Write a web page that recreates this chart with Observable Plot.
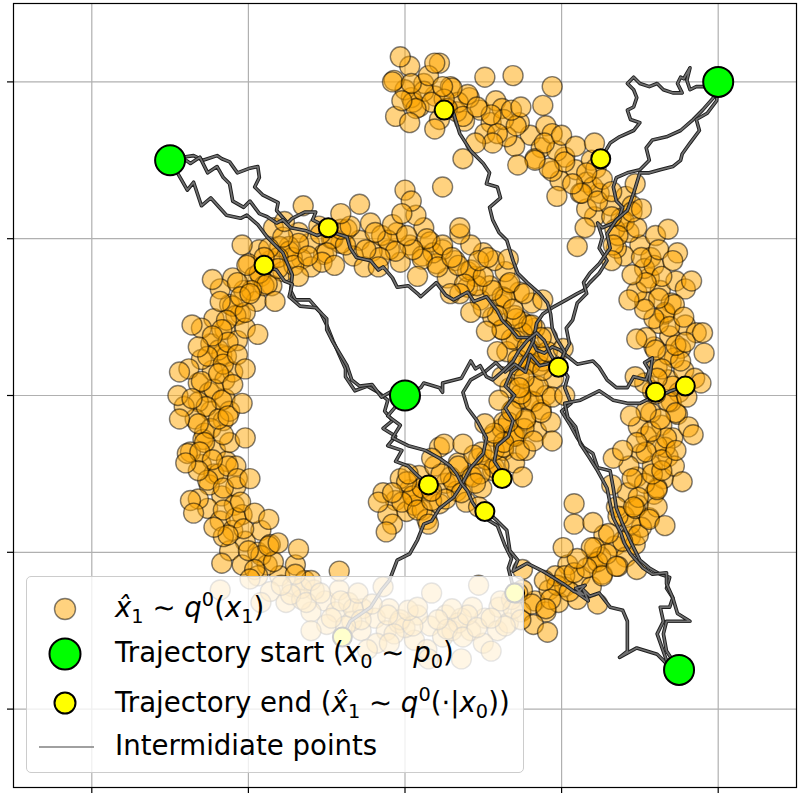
<!DOCTYPE html>
<html><head><meta charset="utf-8">
<script src="https://cdn.jsdelivr.net/npm/d3@7"></script>
<script src="https://cdn.jsdelivr.net/npm/@observablehq/plot@0.6"></script>
<style>
body{margin:0;background:#fff;}
#wrap{position:relative;width:800px;height:800px;font-family:"DejaVu Sans",sans-serif;}
#wrap svg{display:block;}
#legend{position:absolute;left:26px;top:576px;width:498px;height:197px;background:rgba(255,255,255,0.8);border:1.5px solid #cccccc;border-radius:5px;box-sizing:border-box;}
#lsvg{position:absolute;left:0;top:0;}
.lt{position:absolute;left:115px;font-size:27.6px;line-height:31px;white-space:nowrap;color:#000;}
.m{font-style:italic}
.sb{font-size:0.7em;position:relative;top:0.3em}
.sp{font-size:0.7em;position:relative;top:-0.55em}
</style></head><body><div id="wrap"></div>
<script>
const xTicks = [-2, -1, 0, 1, 2];
const yTicks = [-2, -1, 0, 1, 2];

// samples x̂1 ~ q0(x1)  [x, y]
const samples = [
[-0.06,-0.67],[-0.14,-0.62],[0.01,-0.74],[-0.11,-0.76],[-0.17,-0.68],[0.03,-0.60],[-0.03,-0.53],[-0.08,-0.82],[0.06,-0.70],
[0.16,-0.61],[0.09,-0.51],[0.22,-0.69],[0.11,-0.73],[0.26,-0.56],[0.05,-0.64],[0.19,-0.45],[0.14,-0.79],[0.22,-0.33],
[0.42,-0.51],[0.34,-0.43],[0.49,-0.59],[0.33,-0.61],[0.47,-0.40],[0.56,-0.48],[0.39,-0.68],[0.29,-0.52],
[0.63,-0.35],[0.56,-0.26],[0.70,-0.43],[0.57,-0.46],[0.71,-0.26],[0.49,-0.36],[0.77,-0.35],[0.62,-0.21],[0.25,-0.31],
[0.77,-0.16],[0.69,-0.09],[0.84,-0.23],[0.69,-0.25],[0.87,-0.09],[0.63,-0.17],[0.79,-0.03],[0.93,-0.17],
[0.82,0.06],[0.73,0.12],[0.90,0.00],[0.74,-0.02],[0.95,0.11],[0.67,0.05],[0.86,0.19],[0.79,0.21],
[0.80,0.29],[0.71,0.35],[0.88,0.22],[0.72,0.19],[0.91,0.37],[0.65,0.28],[0.83,0.43],[0.75,0.47],
[0.70,0.51],[0.61,0.58],[0.79,0.45],[0.62,0.42],[0.81,0.59],[0.56,0.50],[0.73,0.66],[0.66,0.71],
[0.54,0.70],[0.45,0.76],[0.62,0.63],[0.48,0.61],[0.64,0.79],[0.40,0.69],[0.57,0.86],[0.50,0.91],
[0.32,0.86],[0.24,0.93],[0.40,0.79],[0.27,0.75],[0.42,0.96],[0.20,0.84],[0.35,1.03],[0.46,0.70],
[0.03,0.96],[-0.05,1.04],[0.11,0.89],[-0.03,0.85],[0.12,1.07],[-0.10,0.93],[0.07,1.15],[0.16,0.98],[0.00,1.31],[0.04,1.24],
[-0.29,0.99],[-0.37,1.06],[-0.21,0.92],[-0.33,0.89],[-0.22,1.10],[-0.41,0.97],[-0.26,0.82],[-0.15,1.02],[-0.29,1.22],
[-0.61,0.97],[-0.68,1.04],[-0.52,0.90],[-0.66,0.87],[-0.55,1.08],[-0.74,0.95],[-0.47,1.00],[-0.60,0.82],[-0.65,1.21],
[-0.86,0.86],[-0.93,0.93],[-0.78,0.79],[-0.92,0.76],[-0.80,0.95],[-1.00,0.84],[-0.72,0.88],[-0.85,0.70],[-0.84,1.07],
[-1.03,0.67],[-1.10,0.75],[-0.95,0.60],[-1.12,0.58],[-0.96,0.76],[-1.18,0.68],[-0.90,0.70],[-1.05,0.52],
[-1.15,0.42],[-1.22,0.49],[-1.07,0.35],[-1.24,0.33],[-1.08,0.51],[-1.30,0.43],[-1.02,0.43],[-1.17,0.26],
[-1.23,0.16],[-1.30,0.23],[-1.15,0.10],[-1.32,0.08],[-1.14,0.25],[-1.38,0.17],[-1.10,0.15],[-1.25,0.02],
[-1.24,-0.10],[-1.32,-0.04],[-1.16,-0.16],[-1.34,-0.15],[-1.15,-0.02],[-1.41,-0.07],[-1.12,-0.10],[-1.28,-0.24],[-1.45,0.00],
[-1.21,-0.35],[-1.29,-0.28],[-1.14,-0.42],[-1.30,-0.44],[-1.12,-0.30],[-1.37,-0.36],[-1.08,-0.45],[-1.22,-0.50],[-1.39,-0.37],
[-1.17,-0.64],[-1.25,-0.57],[-1.09,-0.70],[-1.26,-0.72],[-1.08,-0.58],[-1.32,-0.66],[-1.04,-0.76],[-1.18,-0.80],[-1.37,-0.67],
[-1.02,-0.93],[-1.10,-0.86],[-0.94,-1.00],[-1.12,-0.99],[-0.92,-0.86],[-1.04,-1.08],[-0.86,-0.95],[-1.16,-0.90],
[-0.80,-1.15],[-0.88,-1.08],[-0.72,-1.22],[-0.86,-1.25],[-0.70,-1.08],[-0.94,-1.15],[-0.76,-1.32],[-0.64,-1.18],[-1.18,-1.24],
[-0.51,-1.31],[-0.58,-1.24],[-0.44,-1.38],[-0.60,-1.38],[-0.42,-1.24],[-0.66,-1.30],[-0.50,-1.46],[-0.36,-1.32],
[-0.19,-1.42],[-0.27,-1.36],[-0.12,-1.50],[-0.28,-1.50],[-0.10,-1.36],[-0.34,-1.44],[-0.18,-1.58],[-0.04,-1.45],
[0.16,-1.47],[0.08,-1.40],[0.24,-1.54],[0.06,-1.56],[0.26,-1.40],[0.00,-1.48],[0.14,-1.62],[0.30,-1.50],[0.36,-1.68],
[0.51,-1.42],[0.43,-1.35],[0.59,-1.50],[0.42,-1.50],[0.60,-1.35],[0.36,-1.42],[0.50,-1.58],[0.66,-1.45],
[0.83,-1.31],[0.75,-1.24],[0.90,-1.38],[0.74,-1.38],[0.92,-1.24],[0.68,-1.30],[0.82,-1.46],[0.98,-1.32],
[1.12,-1.15],[1.04,-1.08],[1.19,-1.22],[1.02,-1.22],[1.20,-1.07],[0.96,-1.15],[1.10,-1.30],[1.26,-1.14],
[1.34,-0.96],[1.27,-0.89],[1.41,-1.03],[1.25,-1.03],[1.44,-0.90],[1.21,-0.97],[1.36,-1.09],[1.47,-0.95],
[1.49,-0.70],[1.42,-0.62],[1.56,-0.78],[1.40,-0.77],[1.59,-0.63],[1.35,-0.71],[1.51,-0.84],[1.61,-0.71],[1.08,-0.69],[1.08,-0.82],
[1.58,-0.45],[1.51,-0.37],[1.65,-0.53],[1.48,-0.52],[1.68,-0.39],[1.43,-0.45],[1.61,-0.59],[1.72,-0.45],[1.33,-0.40],
[1.64,-0.19],[1.57,-0.11],[1.71,-0.27],[1.54,-0.26],[1.74,-0.12],[1.49,-0.20],[1.66,-0.33],[1.81,-0.20],
[1.68,0.10],[1.61,0.18],[1.75,0.02],[1.58,0.03],[1.78,0.16],[1.53,0.08],[1.70,-0.04],[1.85,0.11],
[1.69,0.38],[1.62,0.46],[1.76,0.30],[1.59,0.31],[1.79,0.45],[1.54,0.37],[1.72,0.24],[1.86,0.40],[1.91,0.27],
[1.63,0.67],[1.56,0.75],[1.70,0.59],[1.53,0.60],[1.73,0.73],[1.48,0.66],[1.66,0.52],[1.79,0.68],
[1.50,0.96],[1.43,1.04],[1.57,0.88],[1.40,0.89],[1.60,1.02],[1.35,0.94],[1.53,0.81],[1.74,0.91],[1.10,0.95],
[1.31,1.21],[1.24,1.29],[1.38,1.13],[1.21,1.14],[1.41,1.27],[1.16,1.19],[1.34,1.06],[1.45,1.21],
[1.09,1.44],[1.02,1.52],[1.16,1.36],[0.99,1.37],[1.19,1.50],[0.94,1.43],[1.12,1.29],[1.22,1.45],
[0.80,1.66],[0.73,1.74],[0.87,1.58],[0.70,1.59],[0.90,1.72],[0.65,1.65],[0.83,1.51],[0.94,1.67],[0.94,1.97],
[0.48,1.82],[0.41,1.90],[0.55,1.74],[0.38,1.75],[0.58,1.88],[0.33,1.81],[0.51,1.67],[0.62,1.83],[0.69,2.04],[0.37,1.51],
[0.19,1.91],[0.12,1.99],[0.26,1.83],[0.09,1.84],[0.29,1.97],[0.04,1.90],[0.22,1.76],[0.22,2.12],[0.24,1.33],
[0.00,1.95],[-0.07,2.01],[0.05,1.87],[-0.06,1.78],[0.03,2.10],[-0.08,2.00],
[0.05,-0.64],[0.11,-0.59],[-0.02,-0.68],[0.08,-0.73],[0.01,-0.55],[0.17,-0.67],[-0.08,-0.62],
[0.31,-0.55],[0.23,-0.50],[0.36,-0.62],[0.26,-0.66],[0.34,-0.45],[0.17,-0.61],[0.43,-0.52],
[0.52,-0.41],[0.60,-0.45],[0.48,-0.50],[0.57,-0.35],[0.44,-0.38],[0.63,-0.33],[0.45,-0.56],
[0.70,-0.26],[0.76,-0.21],[0.63,-0.30],[0.73,-0.35],[0.66,-0.17],[0.82,-0.29],[0.57,-0.24],
[0.82,-0.04],[0.74,0.01],[0.87,-0.11],[0.77,-0.15],[0.85,0.06],[0.68,-0.10],[0.94,-0.01],
[0.80,0.20],[0.88,0.16],[0.76,0.11],[0.85,0.26],[0.72,0.23],[0.91,0.28],[0.73,0.05],
[0.75,0.40],[0.81,0.45],[0.68,0.36],[0.78,0.31],[0.71,0.49],[0.87,0.37],[0.62,0.42],
[0.64,0.62],[0.56,0.67],[0.69,0.55],[0.59,0.51],[0.67,0.72],[0.50,0.56],[0.76,0.65],
[0.42,0.80],[0.50,0.76],[0.38,0.71],[0.47,0.86],[0.34,0.83],[0.53,0.88],[0.35,0.65],
[0.18,0.91],[0.24,0.96],[0.11,0.87],[0.21,0.82],[0.14,1.00],[0.30,0.88],[0.05,0.93],
[-0.11,0.99],[-0.19,1.04],[-0.06,0.92],[-0.16,0.88],[-0.08,1.09],[-0.25,0.93],[0.01,1.02],
[-0.46,1.00],[-0.38,0.96],[-0.50,0.91],[-0.41,1.06],[-0.54,1.03],[-0.35,1.08],[-0.53,0.85],
[-0.74,0.92],[-0.68,0.97],[-0.81,0.88],[-0.71,0.83],[-0.78,1.01],[-0.62,0.89],[-0.87,0.94],
[-0.93,0.78],[-1.01,0.83],[-0.88,0.71],[-0.98,0.67],[-0.90,0.88],[-1.07,0.72],[-0.81,0.81],
[-1.10,0.57],[-1.02,0.53],[-1.14,0.48],[-1.05,0.63],[-1.18,0.60],[-0.99,0.65],[-1.17,0.42],
[-1.19,0.29],[-1.13,0.34],[-1.26,0.25],[-1.16,0.20],[-1.23,0.38],[-1.07,0.26],[-1.32,0.31],
[-1.22,0.04],[-1.30,0.09],[-1.17,-0.03],[-1.27,-0.07],[-1.19,0.14],[-1.36,-0.02],[-1.10,0.07],
[-1.24,-0.21],[-1.16,-0.25],[-1.28,-0.30],[-1.19,-0.15],[-1.32,-0.18],[-1.13,-0.13],[-1.31,-0.36],
[-1.19,-0.50],[-1.13,-0.45],[-1.26,-0.54],[-1.16,-0.59],[-1.23,-0.41],[-1.07,-0.53],[-1.32,-0.48],
[-1.08,-0.78],[-1.16,-0.73],[-1.03,-0.85],[-1.13,-0.89],[-1.05,-0.68],[-1.22,-0.84],[-0.96,-0.75],
[-0.92,-1.02],[-0.84,-1.06],[-0.96,-1.11],[-0.87,-0.96],[-1.00,-0.99],[-0.81,-0.94],[-0.99,-1.17],
[-0.66,-1.23],[-0.60,-1.18],[-0.73,-1.27],[-0.63,-1.32],[-0.70,-1.14],[-0.54,-1.26],[-0.79,-1.21],
[-0.33,-1.36],[-0.41,-1.31],[-0.28,-1.43],[-0.38,-1.47],[-0.30,-1.26],[-0.47,-1.42],[-0.21,-1.33],
[-0.03,-1.43],[0.05,-1.47],[-0.07,-1.52],[0.02,-1.37],[-0.11,-1.40],[0.08,-1.35],[-0.10,-1.58],
[0.34,-1.45],[0.40,-1.40],[0.27,-1.49],[0.37,-1.54],[0.30,-1.36],[0.46,-1.48],[0.21,-1.43],
[0.69,-1.36],[0.61,-1.31],[0.74,-1.43],[0.64,-1.47],[0.72,-1.26],[0.55,-1.42],[0.81,-1.33],
[0.97,-1.21],[1.05,-1.25],[0.93,-1.30],[1.02,-1.15],[0.89,-1.18],[1.08,-1.13],[0.90,-1.36],
[1.23,-1.06],[1.29,-1.01],[1.16,-1.10],[1.26,-1.15],[1.19,-0.97],[1.35,-1.09],[1.10,-1.04],
[1.44,-0.82],[1.36,-0.77],[1.49,-0.89],[1.39,-0.93],[1.47,-0.72],[1.30,-0.88],[1.56,-0.79],
[1.53,-0.56],[1.61,-0.60],[1.49,-0.65],[1.58,-0.50],[1.45,-0.53],[1.64,-0.48],[1.46,-0.71],
[1.61,-0.32],[1.67,-0.27],[1.54,-0.36],[1.64,-0.41],[1.57,-0.23],[1.73,-0.35],[1.48,-0.30],
[1.68,-0.04],[1.60,0.01],[1.73,-0.11],[1.63,-0.15],[1.71,0.06],[1.54,-0.10],[1.80,-0.01],
[1.68,0.26],[1.76,0.22],[1.64,0.17],[1.73,0.32],[1.60,0.29],[1.79,0.34],[1.61,0.11],
[1.66,0.53],[1.72,0.58],[1.59,0.49],[1.69,0.44],[1.62,0.62],[1.78,0.50],[1.53,0.55],
[1.59,0.83],[1.51,0.88],[1.64,0.76],[1.54,0.72],[1.62,0.93],[1.45,0.77],[1.71,0.86],
[1.40,1.11],[1.48,1.07],[1.36,1.02],[1.45,1.17],[1.32,1.14],[1.51,1.19],[1.33,0.96],
[1.20,1.33],[1.26,1.38],[1.13,1.29],[1.23,1.24],[1.16,1.42],[1.32,1.30],[1.07,1.35],
[0.97,1.56],[0.89,1.61],[1.02,1.49],[0.92,1.45],[1.00,1.66],[0.83,1.50],[1.09,1.59],
[0.63,1.76],[0.71,1.72],[0.59,1.67],[0.68,1.82],[0.55,1.79],[0.74,1.84],[0.56,1.61],
[0.34,1.87],[0.40,1.92],[0.27,1.83],[0.37,1.78],[0.30,1.96],[0.46,1.84],[0.25,1.89],
[0.12,1.94],[0.04,1.99],[0.17,1.87],[0.07,1.83],[0.15,2.04],[-0.02,1.88],[0.24,1.97],
[-0.12,-0.87],[0.02,-0.50],[0.15,-0.82],[0.17,-0.40],[0.47,-0.71],[0.37,-0.31],[0.75,-0.52],[0.51,-0.18],
[0.94,-0.29],[0.60,-0.03],[1.02,0.00],[0.62,0.12],[1.01,0.30],[0.59,0.28],[0.88,0.61],[0.52,0.41],
[0.66,0.87],[0.42,0.53],[0.35,1.07],[0.29,0.65],[-0.02,1.16],[0.08,0.76],[-0.41,1.16],[-0.17,0.82],
[-0.77,1.11],[-0.45,0.83],[-1.04,0.96],[-0.68,0.76],[-1.23,0.74],[-0.83,0.60],[-1.36,0.45],[-0.94,0.39],
[-1.44,0.15],[-1.02,0.17],[-1.44,-0.15],[-1.04,-0.05],[-1.40,-0.43],[-1.02,-0.27],[-1.35,-0.75],[-0.99,-0.53],
[-1.17,-1.07],[-0.87,-0.79],[-0.92,-1.32],[-0.68,-0.98],[-0.60,-1.50],[-0.42,-1.12],[-0.24,-1.62],[-0.14,-1.22],
[0.15,-1.68],[0.17,-1.26],[0.55,-1.63],[0.47,-1.21],[0.91,-1.51],[0.75,-1.11],[1.23,-1.33],[1.01,-0.97],
[1.48,-1.11],[1.20,-0.81],[1.66,-0.83],[1.32,-0.57],[1.77,-0.55],[1.39,-0.35],[1.84,-0.25],[1.44,-0.13],
[1.89,0.08],[1.47,0.12],[1.90,0.40],[1.48,0.36],[1.83,0.73],[1.43,0.61],[1.68,1.06],[1.32,0.86],
[1.47,1.35],[1.15,1.07],[1.21,1.61],[0.97,1.27],[0.88,1.85],[0.72,1.47],[0.51,2.03],[0.45,1.61],
[0.19,2.12],[0.19,1.70],[-0.03,2.16],[0.03,1.74]
];

const startPoints = [[-1.5,1.5],[2,2],[0,0],[1.75,-1.75]];
const endPoints = [[0.25,1.82],[1.25,1.51],[-0.49,1.07],[-0.90,0.83],[0.98,0.18],[1.60,0.02],[1.79,0.06],[0.15,-0.57],[0.62,-0.53],[0.51,-0.74],[-0.40,-1.54],[0.70,-1.26]];

const trajA1 = [[-1.5,1.5],[-1.42,1.52],[-1.35,1.53],[-1.29,1.50],[-1.20,1.53],[-1.17,1.51],[-1.12,1.49],[-1.07,1.42],[-0.99,1.45],[-0.94,1.46],[-0.93,1.39],[-0.96,1.33],[-0.91,1.28],[-0.81,1.23],[-0.82,1.18],[-0.75,1.10],[-0.72,1.13],[-0.64,1.17],[-0.57,1.17],[-0.59,1.12],[-0.53,1.09],[-0.49,1.07]];
const trajA2 = [[-1.5,1.5],[-1.44,1.53],[-1.37,1.48],[-1.31,1.52],[-1.26,1.42],[-1.20,1.46],[-1.16,1.39],[-1.12,1.35],[-1.10,1.24],[-1.03,1.20],[-0.99,1.24],[-0.93,1.16],[-0.88,1.14],[-0.82,1.10],[-0.78,1.12],[-0.73,1.07],[-0.63,1.05],[-0.56,1.02],[-0.50,1.05],[-0.43,1.03],[-0.37,1.01],[-0.35,0.94],[-0.31,0.88],[-0.22,0.86],[-0.17,0.80],[-0.14,0.82],[-0.08,0.75],[-0.05,0.69],[0.02,0.70],[0.08,0.65],[0.10,0.63],[0.20,0.72],[0.26,0.64],[0.31,0.61],[0.40,0.66],[0.44,0.60],[0.52,0.63],[0.59,0.54],[0.62,0.48],[0.67,0.43],[0.72,0.37],[0.80,0.37],[0.84,0.29],[0.89,0.27],[0.94,0.31],[0.99,0.29],[1.05,0.24],[1.10,0.20],[1.20,0.22],[1.24,0.18],[1.29,0.10],[1.35,0.05],[1.42,0.05],[1.46,0.12],[1.54,0.10],[1.56,0.16],[1.53,0.21],[1.58,0.24],[1.56,0.10],[1.60,0.02]];
const trajA3 = [[-1.5,1.5],[-1.43,1.38],[-1.39,1.31],[-1.35,1.36],[-1.30,1.21],[-1.24,1.26],[-1.14,1.15],[-1.05,1.13],[-1.01,1.15],[-0.94,1.09],[-0.88,1.01],[-0.84,0.97],[-0.78,0.91],[-0.75,0.84],[-0.72,0.77],[-0.73,0.67],[-0.70,0.61],[-0.61,0.61],[-0.54,0.53],[-0.50,0.45],[-0.46,0.35],[-0.42,0.26],[-0.38,0.17],[-0.38,0.12],[-0.32,0.03],[-0.24,0.06],[-0.17,0.02],[-0.11,-0.03],[-0.13,-0.10],[-0.08,-0.16],[-0.14,-0.21],[-0.06,-0.26],[-0.11,-0.32],[-0.02,-0.35],[-0.06,-0.42],[0.02,-0.45],[0.08,-0.51],[0.15,-0.57]];
const trajB1 = [[2,2],[1.93,1.97],[1.86,1.97],[1.82,1.95],[1.80,2.01],[1.82,2.09],[1.78,2.02],[1.76,2.03],[1.74,1.99],[1.77,1.93],[1.71,1.93],[1.65,1.95],[1.61,1.99],[1.56,1.97],[1.50,1.99],[1.46,2.03],[1.42,1.99],[1.46,1.95],[1.48,1.90],[1.46,1.84],[1.42,1.82],[1.44,1.76],[1.50,1.74],[1.46,1.69],[1.37,1.65],[1.31,1.61],[1.25,1.51]];
const trajB2 = [[2,2],[1.97,1.90],[1.90,1.82],[1.84,1.76],[1.76,1.69],[1.67,1.65],[1.58,1.63],[1.54,1.58],[1.56,1.50],[1.50,1.44],[1.42,1.42],[1.35,1.39],[1.33,1.33],[1.35,1.24],[1.39,1.20],[1.37,1.14],[1.33,1.10],[1.26,1.07],[1.23,1.10],[1.26,1.01],[1.24,0.94],[1.29,0.86],[1.24,0.78],[1.18,0.72],[1.14,0.67],[1.10,0.65],[1.03,0.61],[0.94,0.56],[0.88,0.52],[0.84,0.46],[0.82,0.35],[0.78,0.27],[0.73,0.19],[0.68,0.15],[0.64,0.06],[0.70,0.00],[0.64,-0.08],[0.69,-0.16],[0.66,-0.26],[0.59,-0.32],[0.57,-0.42],[0.61,-0.48],[0.62,-0.53]];
const trajB3 = [[2,2],[1.99,1.88],[1.93,1.80],[1.86,1.76],[1.88,1.69],[1.82,1.61],[1.77,1.54],[1.76,1.50],[1.71,1.46],[1.63,1.44],[1.56,1.42],[1.50,1.42],[1.46,1.29],[1.42,1.18],[1.35,1.12],[1.29,1.03],[1.31,0.94],[1.24,0.84],[1.18,0.78],[1.14,0.72],[1.16,0.65],[1.10,0.59],[1.07,0.48],[1.03,0.43],[1.05,0.33],[0.99,0.22],[0.86,0.19],[0.80,0.26],[0.77,0.15],[0.70,0.20],[0.64,0.15],[0.58,0.21],[0.51,0.15],[0.42,0.10],[0.37,0.02],[0.40,-0.08],[0.46,-0.16],[0.52,-0.27],[0.50,-0.37],[0.42,-0.46],[0.35,-0.59],[0.31,-0.65],[0.22,-0.72],[0.17,-0.80],[0.12,-0.82],[0.08,-0.92],[0.03,-1.01],[-0.05,-1.05],[-0.10,-1.18],[-0.15,-1.24],[-0.22,-1.35],[-0.35,-1.44],[-0.40,-1.54]];
const trajC1 = [[0,0],[-0.08,0.03],[-0.15,-0.01],[-0.21,0.07],[-0.29,0.06],[-0.34,0.10],[-0.37,0.19],[-0.43,0.29],[-0.46,0.34],[-0.50,0.42],[-0.50,0.49],[-0.57,0.56],[-0.67,0.57],[-0.74,0.63],[-0.72,0.71],[-0.77,0.73],[-0.82,0.80],[-0.90,0.83]];
const trajC2 = [[0,0],[0.10,0.05],[0.12,0.08],[0.22,0.05],[0.24,0.02],[0.24,0.08],[0.36,0.11],[0.42,0.22],[0.45,0.17],[0.48,0.19],[0.52,0.12],[0.56,0.10],[0.63,0.16],[0.69,0.22],[0.73,0.29],[0.78,0.35],[0.84,0.40],[0.89,0.35],[0.93,0.26],[0.98,0.18]];
const trajC3 = [[0,0],[-0.05,-0.06],[-0.11,-0.13],[-0.03,-0.19],[-0.08,-0.27],[0.02,-0.32],[0.13,-0.35],[0.22,-0.40],[0.29,-0.45],[0.33,-0.50],[0.36,-0.56],[0.40,-0.61],[0.43,-0.68],[0.49,-0.77],[0.59,-0.83],[0.64,-0.96],[0.68,-1.04],[0.66,-1.10],[0.70,-1.26]];
const trajD1 = [[1.75,-1.75],[1.67,-1.71],[1.61,-1.65],[1.48,-1.61],[1.37,-1.67],[1.42,-1.63],[1.42,-1.44],[1.39,-1.37],[1.31,-1.35],[1.24,-1.26],[1.18,-1.28],[1.14,-1.24],[1.17,-1.31],[1.10,-1.26],[1.15,-1.21],[1.09,-1.23],[1.14,-1.27],[1.08,-1.25],[1.01,-1.20],[0.88,-1.12],[0.78,-1.07],[0.69,-1.12],[0.72,-1.05],[0.67,-0.99],[0.65,-0.86],[0.59,-0.80],[0.51,-0.73]];
const trajD2 = [[1.75,-1.75],[1.67,-1.69],[1.61,-1.52],[1.65,-1.44],[1.63,-1.35],[1.69,-1.35],[1.71,-1.29],[1.67,-1.23],[1.69,-1.16],[1.63,-1.14],[1.56,-1.10],[1.50,-1.05],[1.44,-0.93],[1.39,-0.82],[1.35,-0.72],[1.33,-0.59],[1.31,-0.48],[1.23,-0.46],[1.20,-0.37],[1.14,-0.33],[1.10,-0.27],[1.05,-0.18],[1.00,-0.10],[1.06,-0.05],[1.02,0.05],[1.04,0.12],[0.99,0.20],[1.02,0.28],[0.97,0.36],[0.94,0.43],[0.93,0.52],[0.91,0.59],[0.86,0.65],[0.78,0.72],[0.72,0.78],[0.69,0.86],[0.65,0.99],[0.60,1.04],[0.56,1.12],[0.54,1.20],[0.61,1.26],[0.59,1.33],[0.52,1.35],[0.54,1.42],[0.50,1.48],[0.42,1.56],[0.35,1.67],[0.31,1.80],[0.25,1.82]];
const trajD3 = [[1.75,-1.75],[1.71,-1.69],[1.67,-1.63],[1.65,-1.52],[1.67,-1.44],[1.82,-1.44],[1.74,-1.39],[1.71,-1.29],[1.67,-1.20],[1.67,-1.13],[1.58,-1.14],[1.52,-1.10],[1.44,-1.01],[1.40,-0.94],[1.38,-0.88],[1.33,-0.78],[1.31,-0.69],[1.29,-0.59],[1.23,-0.48],[1.18,-0.40],[1.12,-0.31],[1.09,-0.20],[1.04,-0.14],[1.02,-0.05],[1.12,-0.03],[1.16,-0.01],[1.24,0.03],[1.33,-0.03],[1.42,-0.05],[1.50,-0.05],[1.56,-0.02],[1.63,0.00],[1.70,0.03],[1.79,0.06]];
const trajectories = [trajA1, trajA2, trajA3, trajB1, trajB2, trajB3, trajC1, trajC2, trajC3, trajD1, trajD2, trajD3];

const px = d => d[0], py = d => d[1];
const marks = [
  Plot.gridX({ticks: xTicks, stroke: "#b0b0b0", strokeOpacity: 1, strokeWidth: 1.2}),
  Plot.gridY({ticks: yTicks, stroke: "#b0b0b0", strokeOpacity: 1, strokeWidth: 1.2}),
  Plot.dot(samples, {x: px, y: py, r: 10, fill: "#ffa500", fillOpacity: 0.5, stroke: "#000", strokeOpacity: 0.5, strokeWidth: 1.4})
];
for (const t of trajectories) {
  marks.push(Plot.line(t, {x: px, y: py, stroke: "#1e1e1e", strokeWidth: 3.6}));
  marks.push(Plot.line(t, {x: px, y: py, stroke: "#707070", strokeWidth: 1.7}));
}
marks.push(Plot.dot(startPoints, {x: px, y: py, r: 15, fill: "#00ff00", stroke: "#000", strokeWidth: 2}));
marks.push(Plot.dot(endPoints, {x: px, y: py, r: 9.5, fill: "#ffff00", stroke: "#000", strokeWidth: 2}));
marks.push(Plot.frame({stroke: "#000", strokeWidth: 1.2}));
marks.push(Plot.axisX({ticks: xTicks, tickSize: 6, tickFormat: () => "", label: null, strokeWidth: 1.2}));
marks.push(Plot.axisY({ticks: yTicks, tickSize: 6, tickFormat: () => "", label: null, strokeWidth: 1.2}));

const chart = Plot.plot({
  width: 800, height: 800,
  marginLeft: 13, marginRight: 4, marginTop: 3, marginBottom: 13,
  x: {domain: [-2.5, 2.5]},
  y: {domain: [-2.5, 2.5]},
  style: {background: "white", fontFamily: "DejaVu Sans"},
  marks
});
const wrap = document.getElementById("wrap");
wrap.appendChild(chart);

const legend = document.createElement("div");
legend.id = "legend";
wrap.appendChild(legend);
const ns = "http://www.w3.org/2000/svg";
const ls = document.createElementNS(ns, "svg");
ls.setAttribute("id", "lsvg");
ls.setAttribute("width", 800);
ls.setAttribute("height", 800);
ls.innerHTML =
  '<circle cx="65" cy="609" r="10.5" fill="#ffa500" fill-opacity="0.5" stroke="#000" stroke-opacity="0.5" stroke-width="1.4"/>' +
  '<circle cx="65" cy="654" r="15.5" fill="#00ff00" stroke="#000" stroke-width="2"/>' +
  '<circle cx="65" cy="703" r="10.5" fill="#ffff00" stroke="#000" stroke-width="2"/>' +
  '<line x1="39" x2="94" y1="747" y2="747" stroke="#808080" stroke-width="1.4"/>';
wrap.appendChild(ls);

const rows = [
  {top: 592, html: '<span class="m">x\u0302</span><span class="sb">1</span> \u223C <span class="m">q</span><span class="sp">0</span>(<span class="m">x</span><span class="sb">1</span>)'},
  {top: 637, html: 'Trajectory start (<span class="m">x</span><span class="sb">0</span> \u223C <span class="m">p</span><span class="sb">0</span>)'},
  {top: 687, html: 'Trajectory end (<span class="m">x\u0302</span><span class="sb">1</span> \u223C <span class="m">q</span><span class="sp">0</span>(\u22C5|<span class="m">x</span><span class="sb">0</span>))'},
  {top: 730, html: 'Intermidiate points'}
];
for (const r of rows) {
  const d = document.createElement("div");
  d.className = "lt";
  d.style.top = r.top + "px";
  d.innerHTML = r.html;
  wrap.appendChild(d);
}
</script></body></html>
